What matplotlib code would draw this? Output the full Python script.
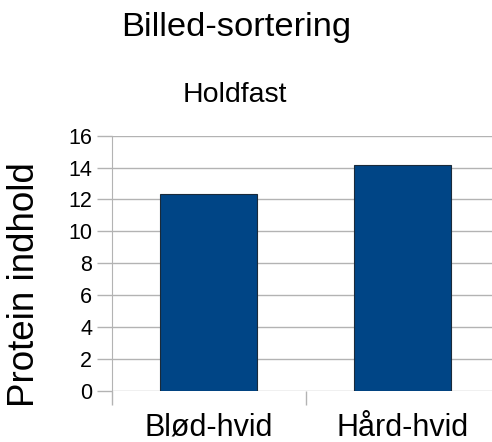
import matplotlib.pyplot as plt

# Proteinindhold pr. hvedetype
categories = ['Blød-hvid', 'Hård-hvid']
protein = [12.35, 14.15]
yticks = [0, 2, 4, 6, 8, 10, 12, 14, 16]

plt.rcParams['font.family'] = ['Liberation Sans', 'DejaVu Sans']

fig = plt.figure(figsize=(4.92, 4.42), dpi=100)
W, H = 492, 442
# plot area i pixels: venstre 111.7, højre 499.7 (går ud over kanten), top 135.7, bund 390.7
ax = fig.add_axes([111.7 / W, 1 - 390.7 / H, 388 / W, 255 / H])

x = list(range(len(categories)))
ax.bar(x, protein, width=0.5, color='#004586', edgecolor='#1a2a3a', linewidth=0.8, zorder=3)

ax.set_xlim(-0.5, len(categories) - 0.5)
ax.set_ylim(0, 16)
ax.set_yticks(yticks)
ax.yaxis.grid(True, color='#b3b3b3', linewidth=1, zorder=0)

# kategori-grænser som tick-streger, labels i midten
ax.set_xticks([-0.5, 0.5, 1.5])
ax.set_xticklabels([])
ax.set_xticks(x, minor=True)
ax.set_xticklabels(categories, minor=True, fontsize=22)
ax.tick_params(axis='x', which='minor', length=0, pad=16)
ax.tick_params(axis='x', which='major', length=10, color='#b3b3b3', width=1)
ax.tick_params(axis='y', length=11, color='#b3b3b3', width=1, labelsize=15.5, pad=3)

for side in ['top', 'right', 'bottom']:
    ax.spines[side].set_visible(False)
ax.spines['left'].set_color('#b3b3b3')

fig.text(25 / W, 1 - 285 / H, 'Protein indhold', fontsize=26.5, rotation=90,
         ha='center', va='center')
fig.text(236 / W, 1 - 36 / H, 'Billed-sortering', fontsize=24.8, ha='center', va='baseline')
fig.text(235 / W, 1 - 101.7 / H, 'Holdfast', fontsize=20.5, ha='center', va='baseline')

fig.savefig('out.png', dpi=100)
